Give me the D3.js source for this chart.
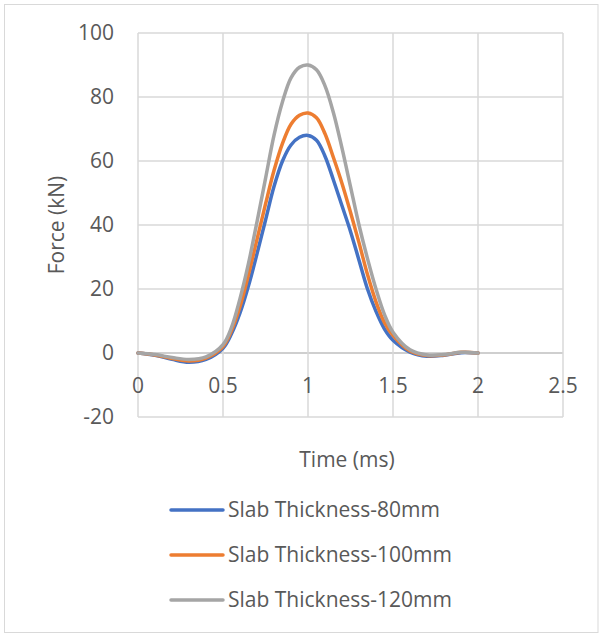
<!DOCTYPE html>
<html>
<head>
<meta charset="utf-8">
<script src="https://cdn.jsdelivr.net/npm/d3@7"></script>
<style>
  body { margin: 0; background: #fff; }
  text { font-family: "Open Sans", sans-serif; fill: #595959; }
</style>
</head>
<body>
<script>
    var w = 603;
    var h = 634;

    // time in ms (denser sampling across the pulse)
    var time = [0, 0.1, 0.2, 0.3, 0.4,
                0.5, 0.55, 0.6, 0.65, 0.7, 0.75, 0.8, 0.85, 0.9, 0.95, 1.0,
                1.05, 1.1, 1.15, 1.2, 1.25, 1.3, 1.35, 1.4, 1.45, 1.5,
                1.6, 1.7, 1.8, 1.9, 2.0];

    // force in kN for each slab thickness
    var slab80  = [0, -0.7, -2.0, -2.9, -2.0,
                   1.5, 6, 12.5, 21, 31, 41.5, 52, 60, 65, 67.4, 68,
                   66.5, 61.5, 54, 46, 38, 29, 20, 13, 7.5, 4,
                   0.3, -1.0, -0.7, 0.1, 0];
    var slab100 = [0, -0.6, -1.7, -2.5, -1.6,
                   2.0, 7, 14.5, 24.5, 35.5, 46.5, 57, 65.5, 71.5, 74.3, 75,
                   73.5, 68.5, 61, 53, 44, 34.5, 24.5, 16, 9.5, 5.5,
                   0.6, -0.8, -0.6, 0.2, 0];
    var slab120 = [0, -0.5, -1.4, -2.0, -1.2,
                   2.6, 8, 17, 28, 41, 54.5, 68, 78.5, 86, 89.3, 90,
                   88.5, 83.5, 75, 64, 52, 40, 29.5, 20, 12, 6.5,
                   1.0, -0.6, -0.5, 0.2, 0];

    var seriesNames = ["Slab Thickness-80mm", "Slab Thickness-100mm", "Slab Thickness-120mm"];
    var seriesColors = ["#4472C4", "#ED7D31", "#A5A5A5"];

    var xTicks = [0, 0.5, 1, 1.5, 2, 2.5];
    var yTicks = [-20, 0, 20, 40, 60, 80, 100];

    var series = [slab80, slab100, slab120].map(function(vals, i) {
        return {
            name: seriesNames[i],
            color: seriesColors[i],
            values: vals.map(function(v, j) { return { t: time[j], f: v }; })
        };
    });

    var svg = d3.select("body")
                .append("svg")
                .attr("width", w)
                .attr("height", h);

    // chart border
    svg.append("rect")
       .attr("x", 4.5)
       .attr("y", 4.5)
       .attr("width", 593.5)
       .attr("height", 628)
       .attr("fill", "none")
       .attr("stroke", "#D9D9D9");

    var x = d3.scaleLinear().domain([0, 2.5]).range([138, 563]);
    var y = d3.scaleLinear().domain([-20, 100]).range([417, 33]);

    // gridlines
    svg.append("g")
       .selectAll("line")
       .data(yTicks)
       .enter()
       .append("line")
       .attr("x1", x(0))
       .attr("x2", x(2.5))
       .attr("y1", d => y(d))
       .attr("y2", d => y(d))
       .attr("stroke", d => d === 0 ? "#BFBFBF" : "#D9D9D9")
       .attr("stroke-width", 1.5);

    svg.append("g")
       .selectAll("line")
       .data(xTicks)
       .enter()
       .append("line")
       .attr("x1", d => x(d))
       .attr("x2", d => x(d))
       .attr("y1", y(-20))
       .attr("y2", y(100))
       .attr("stroke", "#D9D9D9")
       .attr("stroke-width", 1.5);

    // y tick labels
    svg.append("g")
       .selectAll("text")
       .data(yTicks)
       .enter()
       .append("text")
       .attr("x", 114)
       .attr("y", d => y(d))
       .attr("dy", "0.35em")
       .attr("text-anchor", "end")
       .style("font-size", "21px")
       .text(d => d);

    // x tick labels (sit under the zero line)
    svg.append("g")
       .selectAll("text")
       .data(xTicks)
       .enter()
       .append("text")
       .attr("x", d => x(d))
       .attr("y", 386)
       .attr("dy", "0.35em")
       .attr("text-anchor", "middle")
       .style("font-size", "21px")
       .text(d => d);

    // axis titles
    svg.append("text")
       .attr("transform", "translate(57,225) rotate(-90)")
       .attr("dy", "0.35em")
       .attr("text-anchor", "middle")
       .style("font-size", "21px")
       .text("Force (kN)");

    svg.append("text")
       .attr("x", 347)
       .attr("y", 460)
       .attr("dy", "0.35em")
       .attr("text-anchor", "middle")
       .style("font-size", "21px")
       .text("Time (ms)");

    // lines
    var line = d3.line()
                 .x(d => x(d.t))
                 .y(d => y(d.f))
                 .curve(d3.curveCatmullRom.alpha(0.5));

    svg.append("g")
       .selectAll("path")
       .data(series)
       .enter()
       .append("path")
       .attr("d", d => line(d.values))
       .attr("fill", "none")
       .attr("stroke", d => d.color)
       .attr("stroke-width", 3.5)
       .attr("stroke-linecap", "round");

    // legend
    var legendY = [510, 555, 600];
    var legend = svg.append("g")
                    .selectAll("g")
                    .data(series)
                    .enter()
                    .append("g")
                    .attr("transform", (d, i) => "translate(0," + legendY[i] + ")");

    legend.append("line")
          .attr("x1", 171)
          .attr("x2", 223)
          .attr("stroke", d => d.color)
          .attr("stroke-width", 3.5)
          .attr("stroke-linecap", "round");

    legend.append("text")
          .attr("x", 228)
          .attr("dy", "0.35em")
          .style("font-size", "21px")
          .text(d => d.name);
</script>
</body>
</html>
